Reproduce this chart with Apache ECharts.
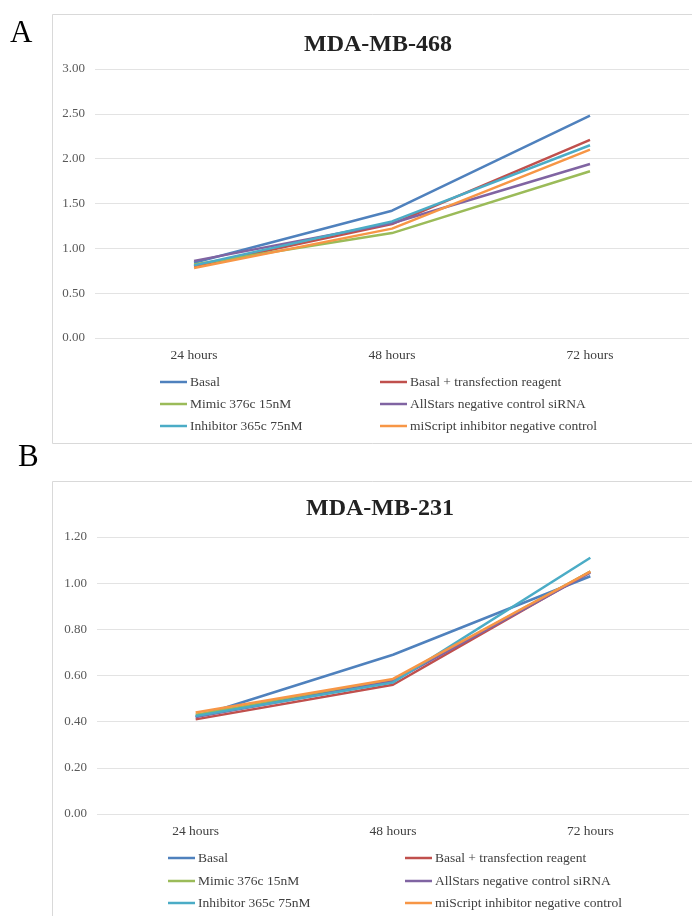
<!DOCTYPE html>
<html><head><meta charset="utf-8">
<script src="https://cdn.jsdelivr.net/npm/echarts@6/dist/echarts.min.js"></script>
<style>html,body{margin:0;padding:0;background:#fff}#c{width:692px;height:916px}</style>
</head><body><div id="c"></div>
<script>
const categories = ['24 hours', '48 hours', '72 hours'];
const seriesNames = ['Basal', 'Basal + transfection reagent', 'Mimic 376c 15nM', 'AllStars negative control siRNA', 'Inhibitor 365c 75nM', 'miScript inhibitor negative control'];
const colors = ['#4F81BD', '#C0504D', '#9BBB59', '#8064A2', '#4BACC6', '#F79646'];
// MDA-MB-468
const a_basal = [0.84, 1.42, 2.48];
const a_basalTR = [0.80, 1.27, 2.21];
const a_mimic = [0.82, 1.17, 1.86];
const a_allstars = [0.86, 1.28, 1.94];
const a_inhibitor = [0.81, 1.30, 2.15];
const a_miscript = [0.78, 1.22, 2.10];
// MDA-MB-231
const b_basal = [0.42, 0.69, 1.03];
const b_basalTR = [0.41, 0.56, 1.05];
const b_mimic = [0.43, 0.58, 1.05];
const b_allstars = [0.42, 0.575, 1.045];
const b_inhibitor = [0.425, 0.57, 1.11];
const b_miscript = [0.44, 0.585, 1.05];

const aData = [a_basal, a_basalTR, a_mimic, a_allstars, a_inhibitor, a_miscript];
const bData = [b_basal, b_basalTR, b_mimic, b_allstars, b_inhibitor, b_miscript];

const serif = '"Liberation Serif", "DejaVu Serif", serif';
const chart = echarts.init(document.getElementById('c'), null, {renderer: 'canvas'});

function yAxis(gi, max, interval) {
  return {
    type: 'value', gridIndex: gi, min: 0, max: max, interval: interval,
    axisLine: {show: false}, axisTick: {show: false},
    splitLine: {lineStyle: {color: '#e3e3e3', width: 1}},
    axisLabel: {color: '#595959', fontFamily: serif, fontSize: 13, margin: 10,
      formatter: v => v.toFixed(2)}
  };
}
function xAxis(gi) {
  return {
    type: 'category', gridIndex: gi, data: categories, boundaryGap: true,
    axisLine: {show: false}, axisTick: {show: false},
    axisLabel: {color: '#404040', fontFamily: serif, fontSize: 13.5, margin: 10}
  };
}
const series = [];
seriesNames.forEach((n, i) => {
  series.push({name: n, type: 'line', xAxisIndex: 0, yAxisIndex: 0, data: aData[i],
    showSymbol: false, symbol: 'none', lineStyle: {width: 2.5, color: colors[i]}, itemStyle: {color: colors[i]}, z: 2});
  series.push({name: n, type: 'line', xAxisIndex: 1, yAxisIndex: 1, data: bData[i],
    showSymbol: false, symbol: 'none', lineStyle: {width: 2.5, color: colors[i]}, itemStyle: {color: colors[i]}, z: 2});
});

const legendPos = [
  [[160, 382], [380, 382], [160, 404], [380, 404], [160, 426], [380, 426]],
  [[168, 858], [405, 858], [168, 881], [405, 881], [168, 903], [405, 903]]
];
const legends = [];
legendPos.forEach(ch => ch.forEach((p, i) => {
  legends.push({
    data: [seriesNames[i]], left: p[0], top: p[1] - 8, padding: 0,
    icon: 'rect', itemWidth: 27, itemHeight: 2.5, itemGap: 0, selectedMode: false,
    textStyle: {color: '#404040', fontFamily: serif, fontSize: 13.5, lineHeight: 16, padding: [0, 0, 0, -2]}
  });
}));

chart.setOption({
  animation: false,
  backgroundColor: '#fff',
  title: [
    {text: 'MDA-MB-468', left: 373, top: 28, textAlign: 'center',
      textStyle: {fontFamily: serif, fontWeight: 'bold', fontSize: 24, color: '#222'}},
    {text: 'MDA-MB-231', left: 375, top: 492, textAlign: 'center',
      textStyle: {fontFamily: serif, fontWeight: 'bold', fontSize: 24, color: '#222'}}
  ],
  graphic: [
    {type: 'rect', shape: {x: 52.5, y: 14.5, width: 700, height: 429}, style: {fill: 'none', stroke: '#d9d9d9', lineWidth: 1}, z: -1},
    {type: 'rect', shape: {x: 52.5, y: 481.5, width: 700, height: 500}, style: {fill: 'none', stroke: '#d9d9d9', lineWidth: 1}, z: -1},
    {type: 'text', left: 10, top: 18, style: {text: 'A', font: '31px ' + serif, fill: '#000'}},
    {type: 'text', left: 18, top: 442, style: {text: 'B', font: '31px ' + serif, fill: '#000'}}
  ],
  legend: legends,
  grid: [
    {left: 95, right: 3, top: 69, height: 269},
    {left: 97, right: 3, top: 537, height: 277}
  ],
  xAxis: [xAxis(0), xAxis(1)],
  yAxis: [yAxis(0, 3, 0.5), yAxis(1, 1.2, 0.2)],
  series: series
});
</script></body></html>
